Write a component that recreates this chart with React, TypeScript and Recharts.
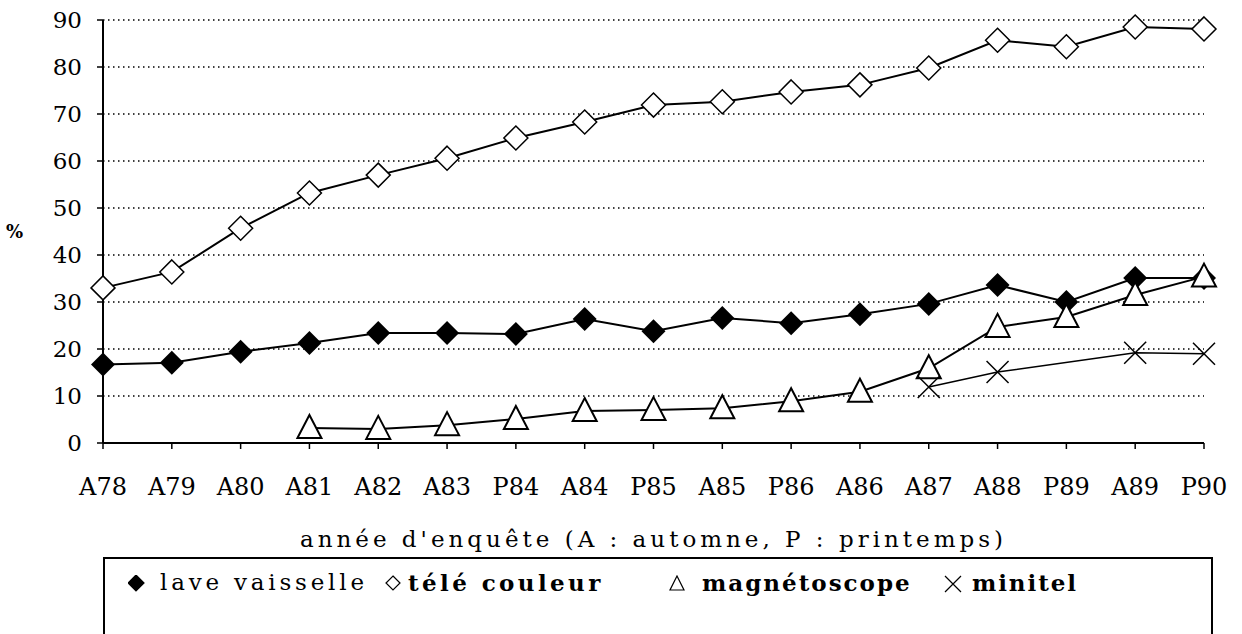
import { LineChart, Line, XAxis, YAxis, CartesianGrid } from "recharts";

const categories = ["A78", "A79", "A80", "A81", "A82", "A83", "P84", "A84", "P85", "A85", "P86", "A86", "A87", "A88", "P89", "A89", "P90"];
const laveVaisselle = [16.7, 17.1, 19.4, 21.3, 23.4, 23.4, 23.2, 26.4, 23.8, 26.6, 25.5, 27.4, 29.6, 33.6, 30.0, 35.1, 35.1];
const teleCouleur = [33.0, 36.4, 45.7, 53.2, 57.0, 60.6, 64.9, 68.3, 71.9, 72.6, 74.7, 76.2, 79.8, 85.7, 84.3, 88.5, 88.1];
const magnetoscope = [null, null, null, 3.2, 3.0, 3.8, 5.1, 6.8, 7.0, 7.4, 8.9, 10.9, 15.9, 24.7, 26.8, 31.5, 35.4];
const minitel = [null, null, null, null, null, null, null, null, null, null, null, null, 11.9, 15.1, null, 19.2, 19.0];
const yTicks = [0, 10, 20, 30, 40, 50, 60, 70, 80, 90];

const data = categories.map((name, i) => ({
  name,
  lave: laveVaisselle[i],
  tele: teleCouleur[i],
  magneto: magnetoscope[i],
  minitel: minitel[i],
}));

const FONT = "'DejaVu Serif', serif";

// markers
const ok = (p: any) => p.cx != null && p.cy != null && p.value != null;

const FilledDiamond = (p: any) =>
  ok(p) ? (
    <path key={p.key} d={`M${p.cx},${p.cy - 12} L${p.cx + 12},${p.cy} L${p.cx},${p.cy + 12} L${p.cx - 12},${p.cy} Z`} fill="#000" />
  ) : (
    <g key={p.key} />
  );

const OpenDiamond = (p: any) =>
  ok(p) ? (
    <path key={p.key} d={`M${p.cx},${p.cy - 12} L${p.cx + 12},${p.cy} L${p.cx},${p.cy + 12} L${p.cx - 12},${p.cy} Z`} fill="#fff" stroke="#000" strokeWidth={1.5} />
  ) : (
    <g key={p.key} />
  );

const Triangle = (p: any) =>
  ok(p) ? (
    <path key={p.key} d={`M${p.cx},${p.cy - 13} L${p.cx + 12},${p.cy + 10} L${p.cx - 12},${p.cy + 10} Z`} fill="#fff" stroke="#000" strokeWidth={2} />
  ) : (
    <g key={p.key} />
  );

const Cross = (p: any) =>
  ok(p) ? (
    <path key={p.key} d={`M${p.cx - 11},${p.cy - 11} L${p.cx + 11},${p.cy + 11} M${p.cx + 11},${p.cy - 11} L${p.cx - 11},${p.cy + 11}`} stroke="#000" strokeWidth={1.5} />
  ) : (
    <g key={p.key} />
  );

const legendItems = [
  { label: "lave vaisselle", icon: "M8,0 L16,8 L8,16 L0,8 Z", fill: "#000", bold: false, spacing: 3.8, iconX: 128, textX: 160 },
  { label: "télé couleur", icon: "M8,1 L15,8 L8,15 L1,8 Z", fill: "#fff", bold: true, spacing: 3.4, iconX: 385, textX: 408 },
  { label: "magnétoscope", icon: "M8,1 L15,15 L1,15 Z", fill: "#fff", bold: true, spacing: 2, iconX: 669, textX: 702 },
  { label: "minitel", icon: "M1,1 L17,17 M17,1 L1,17", fill: "none", bold: true, spacing: 1.9, iconX: 944, textX: 972 },
];

export default function App() {
  return (
    <div style={{ position: "fixed", left: 0, top: 0, width: 1242, height: 634, overflow: "hidden", background: "#fff" }}>
      <LineChart width={1242} height={634} data={data} margin={{ top: 20, right: 38, bottom: 81, left: 43 }}>
        <CartesianGrid horizontal vertical={false} stroke="#000" strokeDasharray="1.5 3.5" strokeWidth={1.3} />
        <XAxis
          dataKey="name"
          height={110}
          tickSize={6}
          tickMargin={29}
          axisLine={{ stroke: "#000", strokeWidth: 2 }}
          tickLine={{ stroke: "#000", strokeWidth: 1.5 }}
          tick={{ fill: "#000", fontFamily: FONT, fontSize: 24 }}
          interval={0}
          label={{
            value: "année d'enquête (A : automne, P : printemps)",
            position: "insideBottom",
            offset: 6,
            fill: "#000",
            fontFamily: FONT,
            fontSize: 23,
            letterSpacing: 4,
          }}
        />
        <YAxis
          domain={[0, 90]}
          ticks={yTicks}
          width={60}
          tickSize={6}
          tickMargin={15}
          axisLine={{ stroke: "#000", strokeWidth: 2 }}
          tickLine={{ stroke: "#000", strokeWidth: 1.5 }}
          tick={{ fill: "#000", fontFamily: FONT, fontSize: 23 }}
          label={{ value: "%", position: "left", offset: 20, angle: 0, fill: "#000", fontFamily: FONT, fontSize: 18, fontWeight: "bold" }}
        />
        <Line dataKey="lave" name="lave vaisselle" stroke="#000" strokeWidth={2} dot={FilledDiamond} isAnimationActive={false} />
        <Line dataKey="tele" name="télé couleur" stroke="#000" strokeWidth={2} dot={OpenDiamond} isAnimationActive={false} />
        <Line dataKey="magneto" name="magnétoscope" stroke="#000" strokeWidth={2} dot={Triangle} isAnimationActive={false} />
        <Line dataKey="minitel" name="minitel" stroke="#000" strokeWidth={1.5} dot={Cross} connectNulls isAnimationActive={false} />
      </LineChart>
      <div
        style={{
          position: "absolute",
          left: 103,
          top: 557,
          width: 1110,
          height: 100,
          border: "2px solid #000",
          boxSizing: "border-box",
        }}
      />
      {legendItems.map((it) => (
        <div key={it.label}>
          <svg width={18} height={18} style={{ position: "absolute", left: it.iconX, top: 575 }}>
            <path d={it.icon} fill={it.fill} stroke="#000" strokeWidth={1.2} />
          </svg>
          <span
            style={{
              position: "absolute",
              left: it.textX,
              top: 569,
              fontFamily: FONT,
              fontSize: 23,
              fontWeight: it.bold ? "bold" : "normal",
              letterSpacing: it.spacing,
              whiteSpace: "nowrap",
              color: "#000",
            }}
          >
            {it.label}
          </span>
        </div>
      ))}
    </div>
  );
}
